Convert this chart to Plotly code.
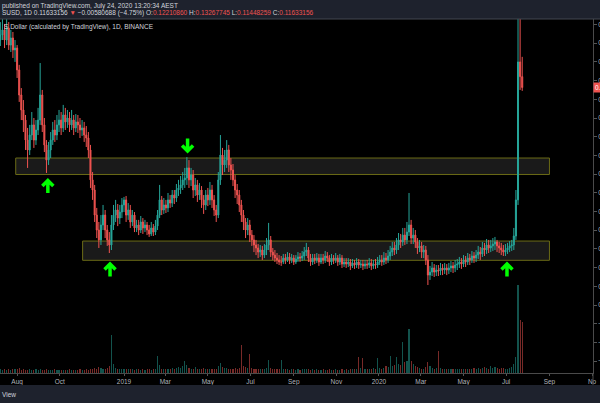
import pandas as pd
import plotly.graph_objects as go

# ---------------- data (prices in 1e-4 USD) ----------------
dates = pd.date_range("2018-07-08", periods=250, freq="3D")

open_e4 = [
    1417, 1444, 1471, 1417, 1481, 1390, 1428, 1364, 1374, 1257,
    1123, 1043, 989, 882, 829, 909, 963, 882, 936, 989,
    1123, 963, 856, 775, 829, 882, 936, 909, 963, 989,
    947, 1016, 979, 1000, 963, 989, 947, 979, 963, 936,
    947, 909, 893, 829, 669, 615, 481, 401, 348, 428,
    481, 401, 348, 321, 428, 481, 508, 465, 497, 535,
    562, 481, 508, 444, 481, 412, 428, 401, 444, 412,
    428, 401, 380, 412, 390, 422, 481, 562, 508, 535,
    519, 562, 545, 588, 572, 615, 626, 642, 669, 679,
    733, 669, 695, 615, 642, 588, 615, 562, 535, 588,
    562, 615, 562, 508, 481, 669, 802, 749, 775, 829,
    749, 722, 669, 615, 588, 535, 481, 444, 401, 428,
    374, 348, 321, 305, 283, 294, 267, 294, 321, 348,
    283, 267, 251, 241, 230, 230, 251, 241, 257, 241,
    251, 230, 246, 257, 251, 262, 283, 294, 251, 230,
    251, 241, 251, 230, 251, 241, 262, 251, 230, 251,
    241, 251, 230, 251, 219, 230, 219, 230, 209, 225,
    214, 230, 214, 219, 209, 219, 214, 225, 209, 219,
    214, 230, 241, 230, 251, 241, 262, 283, 305, 294,
    321, 348, 337, 374, 348, 390, 428, 358, 374, 337,
    305, 316, 283, 294, 241, 160, 176, 198, 176, 187,
    182, 198, 187, 198, 187, 198, 209, 198, 214, 219,
    230, 219, 241, 230, 251, 241, 262, 251, 267, 283,
    273, 305, 294, 321, 305, 316, 326, 337, 316, 305,
    294, 283, 294, 305, 316, 321, 369, 562, 1300, 1221,
]
high_e4 = [
    1513, 1551, 1503, 1578, 1513, 1471, 1460, 1417, 1390, 1284,
    1160, 1096, 1016, 947, 963, 1032, 1000, 989, 1054, 1294,
    1150, 1000, 882, 872, 925, 979, 989, 1016, 1043, 1032,
    1070, 1054, 1043, 1032, 1043, 1016, 1021, 1016, 1000, 989,
    979, 957, 925, 856, 711, 642, 519, 444, 481, 535,
    508, 428, 390, 481, 535, 562, 540, 535, 572, 578,
    583, 545, 535, 508, 497, 455, 455, 476, 465, 455,
    444, 428, 444, 433, 455, 508, 642, 583, 572, 562,
    599, 588, 615, 615, 647, 669, 690, 711, 733, 791,
    775, 733, 722, 679, 669, 652, 636, 588, 615, 626,
    658, 642, 588, 535, 711, 909, 840, 829, 882, 856,
    786, 754, 695, 647, 615, 562, 508, 465, 465, 455,
    401, 374, 348, 326, 321, 316, 326, 358, 439, 369,
    305, 294, 278, 267, 262, 273, 273, 283, 278, 273,
    267, 267, 283, 278, 289, 310, 332, 310, 273, 273,
    273, 278, 273, 273, 273, 289, 283, 267, 273, 267,
    278, 267, 273, 267, 251, 251, 251, 246, 246, 241,
    251, 246, 241, 241, 241, 241, 251, 246, 241, 246,
    257, 267, 267, 283, 278, 294, 316, 337, 337, 358,
    385, 380, 412, 412, 444, 599, 455, 412, 401, 358,
    348, 337, 321, 316, 267, 209, 230, 219, 214, 214,
    225, 219, 225, 219, 225, 235, 230, 241, 246, 257,
    251, 267, 262, 278, 273, 289, 283, 294, 316, 310,
    337, 332, 353, 348, 348, 358, 364, 348, 337, 332,
    321, 326, 332, 342, 348, 412, 615, 1685, 1845, 1327,
]
low_e4 = [
    1385, 1417, 1374, 1390, 1364, 1353, 1321, 1300, 1214, 1086,
    989, 925, 829, 733, 802, 882, 840, 856, 909, 963,
    925, 818, 706, 749, 786, 856, 872, 882, 925, 909,
    925, 936, 947, 925, 936, 909, 925, 920, 893, 904,
    872, 845, 786, 626, 562, 444, 358, 305, 321, 401,
    358, 316, 278, 294, 401, 444, 422, 433, 465, 497,
    444, 455, 412, 422, 390, 390, 374, 385, 380, 390,
    374, 364, 369, 369, 374, 401, 465, 481, 487, 492,
    497, 519, 524, 540, 551, 583, 594, 615, 626, 642,
    626, 636, 572, 583, 551, 562, 519, 487, 508, 529,
    535, 519, 476, 444, 465, 642, 695, 711, 733, 711,
    669, 636, 572, 540, 497, 444, 401, 358, 374, 337,
    316, 283, 267, 251, 257, 241, 251, 267, 294, 257,
    241, 230, 219, 214, 209, 219, 219, 230, 219, 225,
    214, 219, 230, 230, 235, 241, 262, 230, 209, 214,
    219, 225, 209, 219, 219, 225, 230, 209, 214, 219,
    225, 209, 214, 198, 203, 198, 203, 187, 198, 193,
    198, 193, 198, 187, 193, 193, 198, 187, 193, 193,
    198, 214, 209, 214, 219, 225, 241, 262, 267, 273,
    294, 305, 316, 321, 326, 369, 326, 326, 305, 273,
    283, 251, 251, 214, 107, 134, 155, 150, 155, 155,
    160, 160, 166, 160, 166, 176, 171, 176, 187, 198,
    193, 203, 203, 214, 214, 225, 225, 230, 246, 241,
    257, 262, 273, 278, 283, 289, 294, 283, 278, 267,
    262, 262, 273, 283, 289, 294, 348, 535, 1150, 1145,
]
close_e4 = [
    1444, 1471, 1417, 1481, 1390, 1428, 1364, 1374, 1257, 1123,
    1043, 989, 882, 829, 909, 963, 882, 936, 989, 1123,
    963, 856, 775, 829, 882, 936, 909, 963, 989, 947,
    1016, 979, 1000, 963, 989, 947, 979, 963, 936, 947,
    909, 893, 829, 669, 615, 481, 401, 348, 428, 481,
    401, 348, 321, 428, 481, 508, 465, 497, 535, 562,
    481, 508, 444, 481, 412, 428, 401, 444, 412, 428,
    401, 380, 412, 390, 422, 481, 562, 508, 535, 519,
    562, 545, 588, 572, 615, 626, 642, 669, 679, 733,
    669, 695, 615, 642, 588, 615, 562, 535, 588, 562,
    615, 562, 508, 481, 669, 802, 749, 775, 829, 749,
    722, 669, 615, 588, 535, 481, 444, 401, 428, 374,
    348, 321, 305, 283, 294, 267, 294, 321, 348, 283,
    267, 251, 241, 230, 230, 251, 241, 257, 241, 251,
    230, 246, 257, 251, 262, 283, 294, 251, 230, 251,
    241, 251, 230, 251, 241, 262, 251, 230, 251, 241,
    251, 230, 251, 219, 230, 219, 230, 209, 225, 214,
    230, 214, 219, 209, 219, 214, 225, 209, 219, 214,
    230, 241, 230, 251, 241, 262, 283, 305, 294, 321,
    348, 337, 374, 348, 390, 428, 358, 374, 337, 305,
    316, 283, 294, 241, 160, 176, 198, 176, 187, 182,
    198, 187, 198, 187, 198, 209, 198, 214, 219, 230,
    219, 241, 230, 251, 241, 262, 251, 267, 283, 273,
    305, 294, 321, 305, 316, 326, 337, 316, 305, 294,
    283, 294, 305, 316, 321, 369, 562, 1300, 1221, 1163,
]
volume_k = [
    4, 3, 5, 3, 4, 3, 4, 5, 4, 6,
    3, 4, 3, 3, 4, 3, 3, 4, 3, 5,
    3, 3, 4, 3, 3, 3, 4, 3, 3, 3,
    3, 3, 3, 4, 3, 3, 3, 3, 4, 3,
    3, 4, 3, 5, 4, 6, 5, 7, 6, 5,
    5, 6, 8, 43, 10, 6, 5, 4, 5, 4,
    4, 5, 4, 4, 3, 4, 4, 3, 4, 3,
    4, 4, 3, 4, 5, 19, 9, 5, 4, 5,
    5, 4, 6, 5, 6, 7, 6, 8, 14, 9,
    6, 5, 5, 7, 5, 4, 5, 6, 5, 4,
    5, 5, 4, 5, 8, 11, 7, 6, 6, 5,
    5, 5, 6, 5, 6, 32, 8, 7, 6, 22,
    6, 5, 5, 4, 5, 4, 5, 6, 15, 6,
    5, 4, 5, 4, 15, 5, 4, 4, 3, 4,
    4, 3, 4, 3, 4, 4, 5, 4, 3, 4,
    3, 4, 3, 3, 4, 3, 3, 4, 3, 3,
    4, 3, 3, 4, 3, 4, 3, 5, 4, 4,
    5, 18, 6, 17, 5, 4, 5, 4, 6, 5,
    17, 6, 5, 6, 8, 7, 19, 8, 9, 18,
    10, 9, 35, 12, 14, 50, 14, 10, 8, 7,
    6, 5, 5, 7, 12, 8, 6, 5, 6, 25,
    6, 5, 5, 4, 5, 4, 4, 5, 4, 4,
    5, 4, 5, 4, 5, 5, 6, 5, 6, 5,
    6, 7, 6, 5, 8, 6, 7, 6, 5, 6,
    6, 5, 5, 6, 7, 10, 18, 100, 60, 58,
]

x_tick_dates = ["2018-08-01", "2018-10-01", "2019-01-01", "2019-03-01", "2019-05-01",
                "2019-07-01", "2019-09-01", "2019-11-01", "2020-01-01", "2020-03-01",
                "2020-05-01", "2020-07-01", "2020-09-01", "2020-11-01"]
x_tick_labels = ["Aug", "Oct", "2019", "Mar", "May", "Jul", "Sep", "Nov", "2020", "Mar",
                 "May", "Jul", "Sep", "No"]
y_tick_values = [0.15, 0.14, 0.13, 0.12, 0.11, 0.10, 0.09, 0.08, 0.07, 0.06, 0.05,
                 0.04, 0.03, 0.02, 0.01, 0.0, -0.01, -0.02, -0.03]

zone_start = ["2018-07-30", "2018-11-02 18:00"]
zone_end = ["2020-09-01", "2020-09-01"]
zone_top = [0.0786, 0.0342]
zone_bottom = [0.0698, 0.0239]

arrow_dates = ["2018-09-14", "2018-12-12", "2020-07-02 05:00", "2019-04-02"]
arrow_prices = [0.0634, 0.0187, 0.0187, 0.0856]
arrow_dirs = ["up", "up", "up", "down"]

last_price = 0.11633156

# ---------------- figure ----------------
UP = "#26a69a"
DN = "#ef5350"
o = [v / 10000 for v in open_e4]
h = [v / 10000 for v in high_e4]
l = [v / 10000 for v in low_e4]
c = [v / 10000 for v in close_e4]
vol_colors = ["rgba(38,166,154,0.5)" if cc >= oo else "rgba(239,83,80,0.5)"
              for oo, cc in zip(open_e4, close_e4)]

fig = go.Figure()
fig.add_trace(go.Bar(x=dates, y=volume_k, marker=dict(color=vol_colors, line=dict(width=0)),
                     width=1.6 * 86400000, yaxis="y2", hoverinfo="skip"))
fig.add_trace(go.Candlestick(
    x=dates, open=o, high=h, low=l, close=c,
    increasing=dict(line=dict(color=UP, width=1), fillcolor=UP),
    decreasing=dict(line=dict(color=DN, width=1), fillcolor=DN),
    whiskerwidth=0, hoverinfo="skip"))

shapes = []
for xs, xe, yt, yb in zip(zone_start, zone_end, zone_top, zone_bottom):
    shapes.append(dict(type="rect", xref="x", yref="y", x0=xs, x1=xe, y0=yb, y1=yt,
                       fillcolor="rgba(255,255,255,0.10)", line=dict(color="#6b6b16", width=1),
                       layer="below"))
for xd, yp, d in zip(arrow_dates, arrow_prices, arrow_dirs):
    s = 1 if d == "up" else -1
    path = (f"M0,{-6.5*s} L0,{5*s} M-5.5,{0.5*s} L0,{6*s} L5.5,{0.5*s}")
    shapes.append(dict(type="path", xref="x", yref="y", xsizemode="pixel", ysizemode="pixel",
                       xanchor=xd, yanchor=yp, path=path,
                       line=dict(color="#00ff00", width=3.5), layer="above"))

PW = 593.0
PH = 354.0
def px(xpix):
    return xpix / PW
def py(ypix):
    return (373.0 - ypix) / PH

PANEL = "#1e222d"
shapes.append(dict(type="rect", xref="paper", yref="paper", x0=0, x1=px(600), y0=py(19), y1=py(0),
                   fillcolor=PANEL, line=dict(width=0), layer="above"))
shapes.append(dict(type="rect", xref="paper", yref="paper", x0=0, x1=px(600), y0=py(403), y1=py(385),
                   fillcolor=PANEL, line=dict(width=0), layer="above"))
shapes.append(dict(type="line", xref="paper", yref="paper", x0=0, x1=px(600), y0=py(19), y1=py(19),
                   line=dict(color="#434651", width=1), layer="above"))
shapes.append(dict(type="line", xref="paper", yref="paper", x0=1, x1=1, y0=py(385), y1=0,
                   line=dict(color="#4a4a4a", width=1), layer="above"))

FONT = "Liberation Sans"
TXT = "#d1d4dc"
red = lambda t: f"<span style='color:{DN}'>{t}</span>"
line2 = ("SUSD, 1D 0.11633156 " + red("▼") + " −0.00580688 (−4.75%) O:" + red("0.12210860") +
         " H:" + red("0.13267745") + " L:" + red("0.11448259") + " C:" + red("0.11633156"))

annotations = [
    dict(text="published on TradingView.com, July 24, 2020 13:20:34 AEST", x=px(1), y=py(5.5),
         font=dict(size=6.5, color=TXT)),
    dict(text=line2, x=px(1), y=py(13.5), font=dict(size=6.5, color=TXT)),
    dict(text="S Dollar (calculated by TradingView), 1D, BINANCE", x=px(3), y=py(27),
         font=dict(size=6.5, color=TXT)),
    dict(text="View", x=px(1), y=py(394), font=dict(size=6.5, color=TXT)),
]
for a in annotations:
    a.update(xref="paper", yref="paper", xanchor="left", yanchor="middle", showarrow=False,
             borderpad=0)
annotations.append(dict(text="0.11633156", xref="paper", yref="y", x=1, y=last_price,
                        xanchor="left", yanchor="middle", showarrow=False,
                        bgcolor=DN, borderpad=1, font=dict(size=6.5, color="#ffffff")))

fig.update_layout(
    width=600, height=403,
    margin=dict(l=0, r=7, t=19, b=30, pad=0, autoexpand=False),
    paper_bgcolor="#000000", plot_bgcolor="#000000",
    showlegend=False,
    font=dict(family=FONT, size=6.5, color="#b2b5be"),
    xaxis=dict(type="date", range=["2018-07-07 12:00", "2020-11-02 08:00"],
               rangeslider=dict(visible=False), showgrid=False, zeroline=False,
               automargin=False,
               tickvals=x_tick_dates, ticktext=x_tick_labels, ticks="outside", ticklen=2,
               tickcolor="#555555", showline=True, linecolor="#4a4a4a", linewidth=1,
               tickfont=dict(size=6.5, color="#b2b5be", family=FONT)),
    yaxis=dict(range=[-0.03636, 0.15294], side="right", showgrid=False, zeroline=False,
               automargin=False,
               tickvals=y_tick_values, tickformat=".8f", ticks="outside", ticklen=3,
               tickcolor="#555555", showline=True, linecolor="#4a4a4a", linewidth=1,
               tickfont=dict(size=6.5, color="#b2b5be", family=FONT)),
    yaxis2=dict(overlaying="y", range=[0, 402.3], visible=False, fixedrange=True),
    bargap=0,
    shapes=shapes,
    annotations=annotations,
)

fig.write_html("out.html", config={"displayModeBar": False},
               post_script="document.body.style.margin='0';document.body.style.overflow='hidden';")
